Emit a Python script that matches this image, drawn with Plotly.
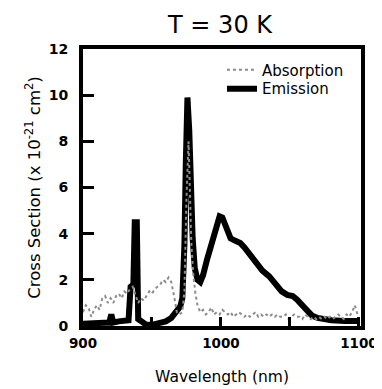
import plotly.graph_objects as go

# Emission cross section (x 1e-21 cm^2)
em_wl = [900, 905, 910, 915, 919, 920.5, 922, 926, 930, 933, 934.5, 936.5, 937.5, 939, 940,
         943, 946, 950, 955, 960, 964, 968, 970.5, 972, 973.5, 974.5, 975.7, 977, 978.2,
         979.5, 981, 983, 985, 987, 990, 993, 996, 999, 1001, 1004, 1007, 1010, 1014, 1017,
         1021, 1025, 1030, 1035, 1040, 1044, 1048, 1052, 1055, 1058, 1062, 1066, 1070, 1075,
         1080, 1090, 1100]
em_val = [0.1, 0.1, 0.12, 0.15, 0.15, 0.5, 0.15, 0.2, 0.2, 0.25, 1.7, 1.8, 4.5, 4.5, 0.3,
          0.15, 0.05, 0.05, 0.1, 0.2, 0.35, 0.6, 0.85, 1.2, 3.5, 7.0, 9.9, 8.5, 6.0,
          3.8, 2.5, 2.0, 1.9, 2.2, 2.9, 3.6, 4.2, 4.75, 4.7, 4.3, 3.8, 3.7, 3.6, 3.4,
          3.1, 2.75, 2.4, 2.15, 1.8, 1.5, 1.35, 1.3, 1.15, 0.95, 0.68, 0.45, 0.35, 0.28,
          0.25, 0.22, 0.22]

# Absorption cross section (x 1e-21 cm^2)
ab_wl = [900, 902, 904, 906, 908, 910, 912, 914, 916, 918, 920, 922, 924, 926, 928, 930,
         932, 934, 936, 938, 940, 942, 944, 946, 948, 950, 952, 954, 956, 958, 960, 962,
         964, 966, 967, 968, 970, 972, 973.5, 975, 976.5, 977.5, 978.5, 980, 981.5, 983,
         985, 987, 989, 991, 993, 995, 997, 999, 1001, 1003, 1005, 1007, 1009, 1011, 1013,
         1015, 1017, 1019, 1021, 1023, 1025, 1027, 1029, 1031, 1033, 1035, 1037, 1039,
         1041, 1043, 1045, 1047, 1049, 1051, 1053, 1055, 1057, 1059, 1061, 1063, 1065,
         1067, 1069, 1071, 1073, 1075, 1077, 1079, 1081, 1083, 1085, 1087, 1089, 1091,
         1093, 1095, 1097, 1099, 1100]
ab_val = [0.6, 0.9, 0.8, 0.4, 0.7, 0.9, 0.7, 1.2, 1.3, 1.0, 1.2, 1.0, 1.3, 1.4, 1.2, 1.5,
          1.4, 1.6, 1.7, 1.3, 1.0, 1.2, 1.1, 1.3, 1.5, 1.4, 1.6, 1.7, 1.8, 2.0, 1.9, 2.1,
          1.9, 1.3, 0.9, 0.6, 0.5, 0.6, 1.5, 5.5, 8.0, 6.0, 3.6, 2.2, 1.4, 0.9,
          0.6, 0.7, 0.5, 0.6, 0.8, 0.5, 0.6, 0.5, 0.7, 0.6, 0.5, 0.6, 0.4, 0.5, 0.6,
          0.5, 0.4, 0.5, 0.4, 0.5, 0.6, 0.4, 0.5, 0.4, 0.5, 0.4, 0.5, 0.4,
          0.5, 0.4, 0.4, 0.5, 0.3, 0.4, 0.5, 0.4, 0.4, 0.3, 0.5, 0.4, 0.3,
          0.4, 0.3, 0.4, 0.3, 0.4, 0.3, 0.4, 0.3, 0.4, 0.5, 0.4, 0.3, 0.5,
          0.4, 0.6, 0.9, 0.5, 0.4]

x_ticks = [900, 1000, 1100]
y_ticks = [0, 2, 4, 6, 8, 10, 12]

FONT = "DejaVu Sans"

fig = go.Figure()
fig.add_trace(go.Scatter(x=em_wl, y=em_val, mode="lines", name="Emission",
                         line=dict(color="black", width=6), legend="legend2"))
fig.add_trace(go.Scatter(x=ab_wl, y=ab_val, mode="lines", name="Absorption",
                         line=dict(color="#8c8c8c", width=2, dash="dot"), legend="legend"))

leg_common = dict(xanchor="left", yanchor="middle", bgcolor="rgba(0,0,0,0)",
                  font=dict(size=15, family=FONT, color="black"), itemwidth=30)

fig.update_layout(
    width=374, height=381,
    margin=dict(l=75, r=21, t=41, b=63),
    paper_bgcolor="white", plot_bgcolor="white",
    font=dict(family=FONT, color="black"),
    title=dict(text="T = 30 K", x=0.493, xref="paper", xanchor="center",
               y=1 - 17 / 381, yref="container", yanchor="middle",
               font=dict(size=24, family=FONT, color="black")),
    showlegend=True,
    legend=dict(x=0.5, y=0.924, **leg_common),
    legend2=dict(x=0.5, y=0.856, **leg_common),
)
fig.update_xaxes(range=[900, 1101.5], tickvals=x_ticks,
                 ticks="inside", ticklen=9, tickwidth=3, tickcolor="black",
                 minor=dict(dtick=50, tick0=900, ticks="inside", ticklen=9,
                            tickwidth=3, tickcolor="black", showgrid=False),
                 showline=True, linewidth=4, linecolor="black", mirror=True,
                 showgrid=False, zeroline=False, automargin=False, ticklabelstandoff=2,
                 tickfont=dict(size=13.5, family=FONT, color="black", weight="bold"),
                 title=dict(text="Wavelength (nm)", font=dict(size=15.5, family=FONT),
                            standoff=22))
fig.update_yaxes(range=[0, 12], tickvals=y_ticks,
                 ticks="inside", ticklen=11, tickwidth=3, tickcolor="black",
                 showline=True, linewidth=4, linecolor="black", mirror=True,
                 showgrid=False, zeroline=False, ticklabelstandoff=8, automargin=False,
                 tickfont=dict(size=14, family=FONT, color="black", weight="bold"),
                 title=dict(text="Cross Section (x 10<sup>-21</sup> cm<sup>2</sup>)",
                            font=dict(size=16.5, family=FONT), standoff=5))

fig.write_html("out.html")
